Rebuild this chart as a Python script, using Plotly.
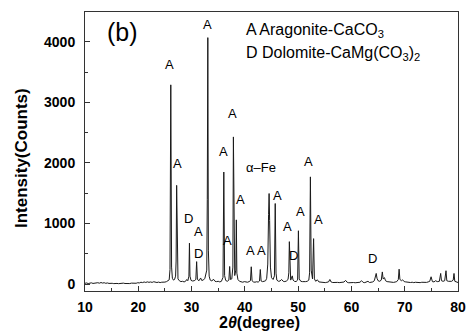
import plotly.graph_objects as go

# ---- XRD trace: (2theta, counts) ----
trace_points = [
    (10.0, 12), (10.3, 18), (10.6, 8), (10.9, 15), (11.2, 20), (11.5, 10), (11.8, 17),
    (12.1, 12), (12.4, 22), (12.7, 14), (13.0, 25), (13.3, 16), (13.6, 22), (13.9, 12),
    (14.2, 18), (14.5, 10), (14.8, 16), (15.1, 12), (15.4, 7), (15.7, 14), (16.0, 10),
    (16.3, 6), (16.6, 13), (16.9, 8), (17.2, 15), (17.5, 9), (17.8, 5), (18.1, 12),
    (18.4, 8), (18.7, 15), (19.0, 11), (19.3, 18), (19.6, 13), (19.9, 22), (20.2, 18),
    (20.5, 30), (20.8, 24), (21.1, 34), (21.4, 26), (21.7, 36), (22.0, 28), (22.3, 34),
    (22.6, 27), (22.9, 38), (23.2, 30), (23.5, 25), (23.8, 32), (24.1, 24), (24.4, 30),
    (24.7, 26), (25.0, 32), (25.3, 40), (25.6, 55), (25.8, 70), (25.95, 240),
    (26.1, 3290), (26.25, 280), (26.4, 95), (26.6, 65), (26.8, 75), (27.0, 130),
    (27.1, 380), (27.2, 1630), (27.3, 280), (27.45, 85), (27.7, 55), (28.0, 40),
    (28.3, 45), (28.6, 35), (28.9, 48), (29.1, 75), (29.3, 55), (29.5, 130), (29.6, 675),
    (29.7, 130), (29.9, 60), (30.2, 50), (30.5, 55), (30.8, 75), (30.95, 370), (31.1, 75),
    (31.4, 55), (31.7, 100), (31.9, 60), (32.2, 65), (32.5, 95), (32.7, 180), (32.85, 230),
    (32.95, 1400), (33.05, 4070), (33.15, 560), (33.3, 130), (33.5, 65), (33.8, 50),
    (34.1, 80), (34.4, 45), (34.7, 40), (35.0, 45), (35.3, 35), (35.6, 45), (35.9, 110),
    (36.05, 1850), (36.2, 140), (36.4, 60), (36.7, 45), (37.0, 65), (37.15, 290),
    (37.3, 75), (37.55, 85), (37.75, 280), (37.85, 2430), (37.95, 380), (38.1, 140),
    (38.3, 230), (38.4, 1060), (38.5, 180), (38.7, 75), (39.0, 45), (39.3, 35),
    (39.6, 30), (39.9, 40), (40.2, 33), (40.5, 30), (40.8, 40), (41.05, 55), (41.2, 285),
    (41.35, 55), (41.6, 35), (41.9, 30), (42.2, 38), (42.5, 32), (42.75, 50), (42.9, 240),
    (43.05, 50), (43.3, 40), (43.6, 45), (43.9, 55), (44.1, 95), (44.3, 330),
    (44.45, 1150), (44.55, 1495), (44.65, 1050), (44.8, 280), (45.0, 105), (45.3, 75),
    (45.55, 135), (45.7, 1330), (45.85, 180), (46.0, 65), (46.3, 45), (46.6, 50),
    (46.9, 75), (47.2, 45), (47.5, 40), (47.8, 50), (48.1, 75), (48.25, 185), (48.35, 700),
    (48.45, 135), (48.6, 65), (48.9, 135), (49.05, 65), (49.3, 45), (49.6, 40), (49.9, 65),
    (50.05, 880), (50.2, 85), (50.5, 45), (50.8, 40), (51.1, 35), (51.4, 40), (51.7, 45),
    (52.0, 65), (52.15, 185), (52.3, 1770), (52.45, 230), (52.7, 85), (52.9, 750),
    (53.05, 85), (53.3, 45), (53.6, 70), (53.9, 35), (54.2, 30), (54.5, 25), (54.8, 30),
    (55.1, 23), (55.4, 29), (55.7, 35), (55.95, 75), (56.2, 33), (56.5, 25), (56.8, 29),
    (57.1, 21), (57.4, 27), (57.7, 23), (58.0, 30), (58.3, 25), (58.6, 33), (58.9, 60),
    (59.2, 29), (59.5, 21), (59.8, 25), (60.1, 19), (60.4, 25), (60.7, 21), (61.0, 27),
    (61.3, 23), (61.6, 29), (61.9, 55), (62.2, 27), (62.5, 23), (62.8, 30), (63.1, 45),
    (63.4, 25), (63.7, 30), (64.0, 35), (64.3, 55), (64.5, 105), (64.65, 175), (64.8, 95),
    (65.0, 55), (65.3, 45), (65.6, 65), (65.8, 200), (65.95, 85), (66.2, 105), (66.4, 55),
    (66.7, 40), (67.0, 35), (67.3, 30), (67.6, 35), (67.9, 27), (68.2, 33), (68.5, 40),
    (68.8, 75), (68.95, 245), (69.1, 75), (69.4, 55), (69.6, 70), (69.9, 40), (70.2, 35),
    (70.5, 29), (70.8, 33), (71.1, 25), (71.4, 30), (71.7, 23), (72.0, 29), (72.3, 25),
    (72.6, 31), (72.9, 23), (73.2, 29), (73.5, 25), (73.8, 31), (74.1, 27), (74.4, 35),
    (74.7, 45), (74.95, 120), (75.2, 40), (75.5, 35), (75.8, 55), (76.1, 40), (76.5, 45),
    (76.75, 175), (76.9, 55), (77.2, 45), (77.5, 55), (77.75, 220), (77.9, 55), (78.2, 45),
    (78.5, 40), (78.8, 45), (79.1, 65), (79.25, 175), (79.4, 45), (79.7, 30), (80.0, 25),
]
two_theta = [p[0] for p in trace_points]
counts = [p[1] for p in trace_points]

# ---- peak labels ----
label_text = ["A", "A", "A", "A", "A", "\u03b1\u2013Fe", "A", "D", "A", "D", "A", "A",
              "A", "A", "A", "A", "A", "D", "A", "D"]
label_x = [25.80, 33.02, 37.69, 35.96, 27.33, 43.07, 51.94, 29.47, 31.31, 31.26, 36.82,
           39.27, 41.05, 43.07, 46.14, 47.98, 50.36, 49.19, 53.78, 64.01]
label_y = [3627, 4293, 2818, 2196, 1993, 1932, 2031, 1085, 875, 507, 726,
           1398, 550, 550, 1469, 946, 1205, 479, 1068, 424]

x_ticks = [10, 20, 30, 40, 50, 60, 70, 80]
y_ticks = [0, 1000, 2000, 3000, 4000]

legend_lines = ["A Aragonite-CaCO<sub>3</sub>", "D Dolomite-CaMg(CO<sub>3</sub>)<sub>2</sub>"]

FONT = "Liberation Sans, Arial, sans-serif"

fig = go.Figure()
fig.add_trace(go.Scatter(x=two_theta, y=counts, mode="lines",
                         line=dict(color="#1a1a1a", width=1), showlegend=False,
                         hoverinfo="skip"))

for t, x, y in zip(label_text, label_x, label_y):
    fig.add_annotation(x=x, y=y, text=t, showarrow=False,
                       font=dict(family=FONT, size=13, color="black"),
                       xanchor="center", yanchor="middle")

fig.add_annotation(xref="paper", yref="paper", x=0.101, y=0.929, text="(b)",
                   showarrow=False, font=dict(family=FONT, size=25, color="black"),
                   xanchor="center", yanchor="middle")

for i, t in enumerate(legend_lines):
    fig.add_annotation(xref="paper", yref="paper", x=0.427, y=[0.935, 0.853][i],
                       text=t, showarrow=False,
                       font=dict(family=FONT, size=16, color="black"),
                       xanchor="left", yanchor="middle")

# axis titles
fig.add_annotation(xref="paper", yref="paper", x=-0.17, y=0.475,
                   text="<b>Intensity(Counts)</b>", textangle=-90, showarrow=False,
                   font=dict(family=FONT, size=17, color="black"),
                   xanchor="center", yanchor="middle")
fig.add_annotation(xref="paper", yref="paper", x=0.468, y=-0.112,
                   text="<b>2<i>\u03b8</i>(degree)</b>", showarrow=False,
                   font=dict(family=FONT, size=16, color="black"),
                   xanchor="center", yanchor="middle")

fig.update_layout(
    width=474, height=333,
    margin=dict(l=85, r=8, t=12, b=42),
    paper_bgcolor="white", plot_bgcolor="white",
    font=dict(family=FONT, color="black"),
)
fig.update_xaxes(
    range=[10, 80], tickvals=x_ticks, ticktext=[f"<b>{v}</b>" for v in x_ticks],
    ticks="inside", ticklen=5, tickwidth=1, tickcolor="#333",
    minor=dict(ticks="inside", ticklen=3, dtick=5, tick0=5, tickcolor="#333"),
    showline=True, linecolor="#333", linewidth=1, mirror=True,
    showgrid=False, zeroline=False,
    tickfont=dict(family=FONT, size=14, color="black"), ticklabelstandoff=3,
)
fig.update_yaxes(
    range=[-115, 4493], tickvals=y_ticks, ticktext=[f"<b>{v}</b>" for v in y_ticks],
    ticks="inside", ticklen=5, tickwidth=1, tickcolor="#333",
    minor=dict(ticks="inside", ticklen=3, dtick=500, tick0=500, tickcolor="#333"),
    showline=True, linecolor="#333", linewidth=1, mirror=True,
    showgrid=False, zeroline=False,
    tickfont=dict(family=FONT, size=14, color="black"), ticklabelstandoff=6,
)

fig.write_html("out.html")
